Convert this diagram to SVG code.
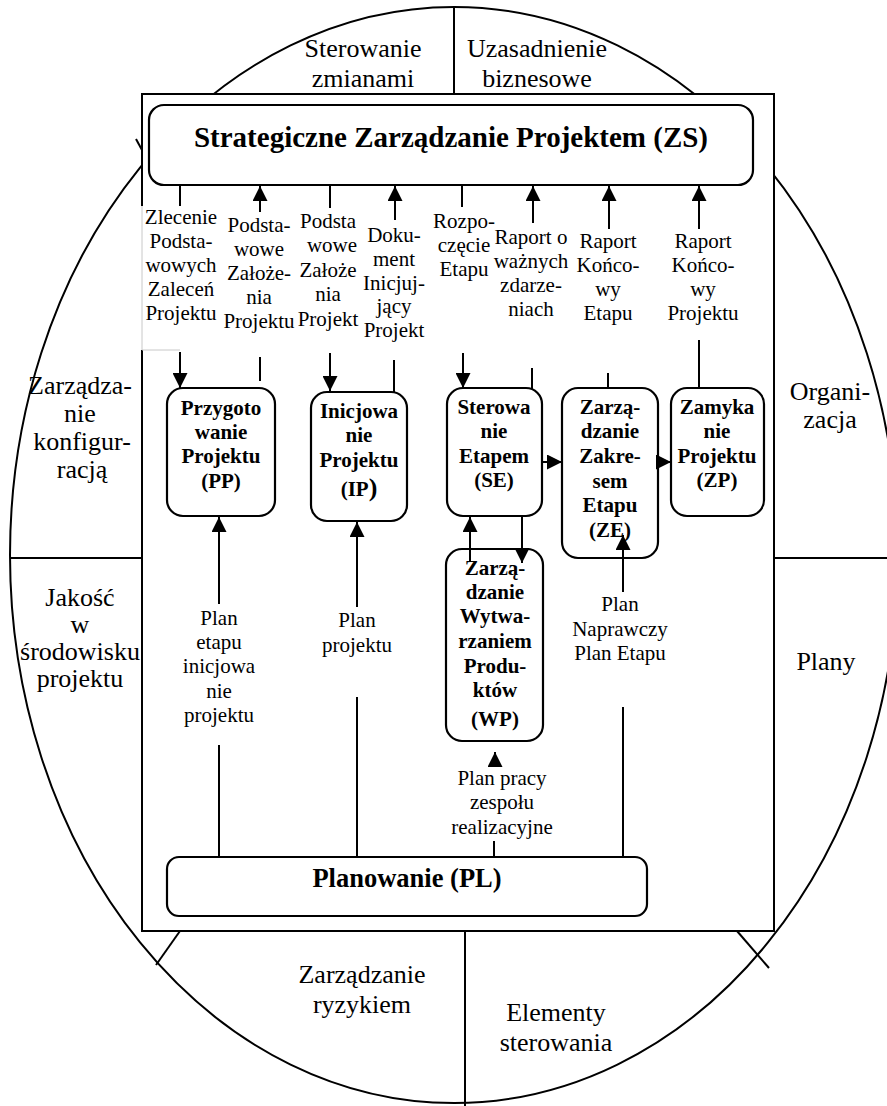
<svg xmlns="http://www.w3.org/2000/svg" width="887" height="1106" viewBox="0 0 887 1106">
<style>
.o{fill:none;stroke:#000;stroke-width:2}
.box{fill:#fff;stroke:#000;stroke-width:2.2}
.c{fill:none;stroke:#000;stroke-width:2}
.big{font-family:"Liberation Serif","Times New Roman",serif;font-size:26px;text-anchor:middle;fill:#000}
.lab{font-family:"Liberation Serif","Times New Roman",serif;font-size:21px;text-anchor:middle;fill:#000}
.nl{font-family:"Liberation Serif","Times New Roman",serif;font-size:21px;font-weight:bold;text-anchor:middle;fill:#000}
</style>
<defs>
<marker id="ah" viewBox="0 0 10 10" refX="10" refY="5" markerWidth="15" markerHeight="15" markerUnits="userSpaceOnUse" orient="auto"><path d="M0,0 L10,5 L0,10 z" fill="#000"/></marker>
</defs>
<rect width="887" height="1106" fill="#fff"/>
<g id="frame">
<ellipse class="o" cx="454" cy="555" rx="444" ry="548"/>
<line class="o" x1="454" y1="8" x2="454" y2="94"/>
<line class="o" x1="10" y1="558" x2="142" y2="558"/>
<line class="o" x1="774" y1="558" x2="887" y2="558"/>
<line class="o" x1="465" y1="931" x2="465" y2="1106"/>
<line class="o" x1="180" y1="931" x2="156" y2="965"/>
<line class="o" x1="737" y1="931" x2="769" y2="968"/>
<line class="o" x1="136" y1="139" x2="142" y2="150"/>
<rect x="142" y="94" width="632" height="837" fill="#fff" stroke="#000" stroke-width="2"/>
<rect x="139" y="206" width="40" height="144" fill="#fff"/>
<path d="M142,206 V350 H180" fill="none" stroke="#c8c8c8" stroke-width="1"/>
<text class="big" x="363" y="57">Sterowanie</text>
<text class="big" x="363" y="87">zmianami</text>
<text class="big" x="537" y="57">Uzasadnienie</text>
<text class="big" x="537" y="87">biznesowe</text>
<text class="big" x="80" y="394">Zarządza-</text>
<text class="big" x="80" y="422">nie</text>
<text class="big" x="82" y="450">konfigur-</text>
<text class="big" x="82" y="478">racją</text>
<text class="big" x="80" y="606">Jakość</text>
<text class="big" x="80" y="633">w</text>
<text class="big" x="80" y="660">środowisku</text>
<text class="big" x="80" y="687">projektu</text>
<text class="big" x="830" y="400">Organi-</text>
<text class="big" x="830" y="428">zacja</text>
<text class="big" x="826" y="670">Plany</text>
<text class="big" x="362" y="983">Zarządzanie</text>
<text class="big" x="362" y="1013">ryzykiem</text>
<text class="big" x="556" y="1021">Elementy</text>
<text class="big" x="556" y="1051">sterowania</text>
</g>
<g id="ZS">
<rect class="box" x="149" y="105" width="604" height="80" rx="15"/>
<text x="451" y="147" font-family="Liberation Serif,Times New Roman,serif" font-size="29" font-weight="bold" text-anchor="middle">Strategiczne Zarządzanie Projektem (ZS)</text>
</g>
<g id="PP">
<rect class="box" x="167" y="388" width="108" height="128" rx="16"/>
<text class="nl" x="221" y="415">Przygoto</text>
<text class="nl" x="221" y="439">wanie</text>
<text class="nl" x="221" y="463">Projektu</text>
<text class="nl" x="221" y="488">(PP)</text>
</g>
<g id="IP">
<rect class="box" x="311" y="392" width="96" height="129" rx="16"/>
<text class="nl" x="359" y="418">Inicjowa</text>
<text class="nl" x="359" y="442">nie</text>
<text class="nl" x="359" y="467">Projektu</text>
<text class="nl" x="359" y="496">(IP<tspan font-size="26">)</tspan></text>
</g>
<g id="SE">
<rect class="box" x="447" y="388" width="95" height="128" rx="16"/>
<text class="nl" x="494" y="414">Sterowa</text>
<text class="nl" x="494" y="438">nie</text>
<text class="nl" x="494" y="463">Etapem</text>
<text class="nl" x="494" y="487">(SE)</text>
</g>
<g id="ZE">
<rect class="box" x="562" y="388" width="96" height="170" rx="16"/>
<text class="nl" x="610" y="414">Zarzą-</text>
<text class="nl" x="610" y="438">dzanie</text>
<text class="nl" x="610" y="463">Zakre-</text>
<text class="nl" x="610" y="488">sem</text>
<text class="nl" x="610" y="512">Etapu</text>
<text class="nl" x="610" y="537">(ZE)</text>
</g>
<g id="ZP">
<rect class="box" x="671" y="388" width="93" height="128" rx="16"/>
<text class="nl" x="717" y="414">Zamyka</text>
<text class="nl" x="717" y="438">nie</text>
<text class="nl" x="717" y="463">Projektu</text>
<text class="nl" x="717" y="487">(ZP)</text>
</g>
<g id="WP">
<rect class="box" x="446" y="549" width="97" height="192" rx="16"/>
<text class="nl" x="495" y="575">Zarzą-</text>
<text class="nl" x="495" y="599">dzanie</text>
<text class="nl" x="495" y="623">Wytwa-</text>
<text class="nl" x="495" y="648">rzaniem</text>
<text class="nl" x="495" y="673">Produ-</text>
<text class="nl" x="495" y="697">któw</text>
<text class="nl" x="495" y="726" font-size="24">(WP)</text>
</g>
<g id="PL">
<rect class="box" x="167" y="857" width="480" height="59" rx="12"/>
<text x="407" y="887" font-family="Liberation Serif,Times New Roman,serif" font-size="26.5" font-weight="bold" text-anchor="middle">Planowanie (PL)</text>
</g>
<g id="connectors">
<line class="c" x1="180" y1="185" x2="180" y2="206"/>
<line class="c" x1="180" y1="352" x2="180" y2="388" marker-end="url(#ah)"/>
<line class="c" x1="260" y1="212" x2="260" y2="186" marker-end="url(#ah)"/>
<line class="c" x1="260" y1="357" x2="260" y2="381"/>
<line class="c" x1="330" y1="185" x2="330" y2="208"/>
<line class="c" x1="330" y1="353" x2="330" y2="391" marker-end="url(#ah)"/>
<line class="c" x1="395" y1="220" x2="395" y2="186" marker-end="url(#ah)"/>
<line class="c" x1="394" y1="360" x2="394" y2="392"/>
<line class="c" x1="462" y1="185" x2="462" y2="207"/>
<line class="c" x1="463" y1="353" x2="463" y2="388" marker-end="url(#ah)"/>
<line class="c" x1="533" y1="223" x2="533" y2="186" marker-end="url(#ah)"/>
<line class="c" x1="532" y1="368" x2="532" y2="389"/>
<line class="c" x1="609" y1="229" x2="609" y2="186" marker-end="url(#ah)"/>
<line class="c" x1="608" y1="373" x2="608" y2="389"/>
<line class="c" x1="699" y1="229" x2="699" y2="186" marker-end="url(#ah)"/>
<line class="c" x1="699" y1="340" x2="699" y2="389"/>
<line class="c" x1="542" y1="462" x2="562" y2="462" marker-end="url(#ah)"/>
<line class="c" x1="658" y1="462" x2="671" y2="462" marker-end="url(#ah)"/>
<line class="c" x1="470" y1="562" x2="470" y2="517" marker-end="url(#ah)"/>
<line class="c" x1="522" y1="517" x2="522" y2="563" marker-end="url(#ah)"/>
<line class="c" x1="219" y1="604" x2="219" y2="517" marker-end="url(#ah)"/>
<line class="c" x1="219" y1="745" x2="219" y2="857"/>
<line class="c" x1="357" y1="607" x2="357" y2="522" marker-end="url(#ah)"/>
<line class="c" x1="357" y1="697" x2="357" y2="857"/>
<line class="c" x1="495" y1="766" x2="495" y2="752" marker-end="url(#ah)"/>
<line class="c" x1="494" y1="841" x2="494" y2="857"/>
<line class="c" x1="623" y1="592" x2="623" y2="535" marker-end="url(#ah)"/>
<line class="c" x1="623" y1="707" x2="623" y2="857"/>
</g>
<g id="labels">
<text class="lab" x="181" y="224">Zlecenie</text>
<text class="lab" x="181" y="248">Podsta-</text>
<text class="lab" x="181" y="272">wowych</text>
<text class="lab" x="181" y="296">Zaleceń</text>
<text class="lab" x="181" y="320">Projektu</text>
<text class="lab" x="259" y="232">Podsta-</text>
<text class="lab" x="259" y="256">wowe</text>
<text class="lab" x="259" y="280">Założe-</text>
<text class="lab" x="259" y="304">nia</text>
<text class="lab" x="259" y="328">Projektu</text>
<text class="lab" x="328" y="228">Podsta</text>
<text class="lab" x="332" y="252">wowe</text>
<text class="lab" x="328" y="277">Założe</text>
<text class="lab" x="328" y="301">nia</text>
<text class="lab" x="328" y="326">Projekt</text>
<text class="lab" x="394" y="242">Doku-</text>
<text class="lab" x="394" y="266">ment</text>
<text class="lab" x="394" y="290">Inicjuj-</text>
<text class="lab" x="394" y="313">jący</text>
<text class="lab" x="394" y="337">Projekt</text>
<text class="lab" x="464" y="228">Rozpo-</text>
<text class="lab" x="464" y="252">częcie</text>
<text class="lab" x="464" y="276">Etapu</text>
<text class="lab" x="531" y="244">Raport o</text>
<text class="lab" x="531" y="268">ważnych</text>
<text class="lab" x="531" y="292">zdarze-</text>
<text class="lab" x="531" y="316">niach</text>
<text class="lab" x="608" y="248">Raport</text>
<text class="lab" x="608" y="272">Końco-</text>
<text class="lab" x="608" y="296">wy</text>
<text class="lab" x="608" y="320">Etapu</text>
<text class="lab" x="703" y="248">Raport</text>
<text class="lab" x="703" y="272">Końco-</text>
<text class="lab" x="703" y="296">wy</text>
<text class="lab" x="703" y="320">Projektu</text>
<text class="lab" x="219" y="625">Plan</text>
<text class="lab" x="219" y="649">etapu</text>
<text class="lab" x="219" y="673">inicjowa</text>
<text class="lab" x="219" y="698">nie</text>
<text class="lab" x="219" y="722">projektu</text>
<text class="lab" x="357" y="627">Plan</text>
<text class="lab" x="357" y="652">projektu</text>
<text class="lab" x="620" y="611">Plan</text>
<text class="lab" x="620" y="636">Naprawczy</text>
<text class="lab" x="620" y="660">Plan Etapu</text>
<text class="lab" x="502" y="785">Plan pracy</text>
<text class="lab" x="502" y="809">zespołu</text>
<text class="lab" x="502" y="834">realizacyjne</text>
</g>
</svg>
